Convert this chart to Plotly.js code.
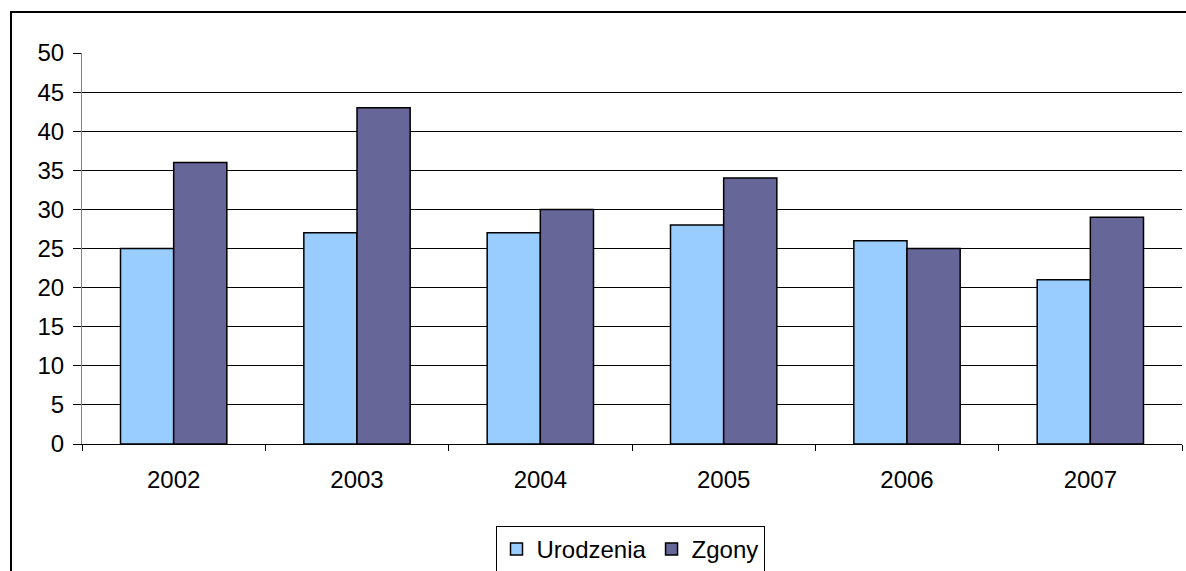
<!DOCTYPE html>
<html>
<head>
<meta charset="utf-8">
<script src="https://cdn.plot.ly/plotly-3.0.1.min.js"></script>
<style>
html,body{margin:0;padding:0;background:#fff;}
#chart{width:1186px;height:571px;}
</style>
</head>
<body>
<div id="chart"></div>
<script>
var years = ['2002', '2003', '2004', '2005', '2006', '2007'];
var urodzenia = [25, 27, 27, 28, 26, 21];
var zgony = [36, 43, 30, 34, 25, 29];
var yTicks = [0, 5, 10, 15, 20, 25, 30, 35, 40, 45, 50];

var W = 1186, H = 571;
var mL = 82, mR = 4, mT = 53, mB = 127;
var pw = W - mL - mR, ph = H - mT - mB;
function px(x) { return (x - mL) / pw; }
function py(y) { return (H - mB - y) / ph; }

var traces = [
  {type: 'bar', name: 'Urodzenia', x: years, y: urodzenia,
   marker: {color: '#99CCFF', line: {color: '#000000', width: 1.5}}},
  {type: 'bar', name: 'Zgony', x: years, y: zgony,
   marker: {color: '#666699', line: {color: '#000000', width: 1.5}}}
];

var font = {family: 'Liberation Sans, Arial, sans-serif', size: 24, color: '#000'};

var layout = {
  width: W, height: H,
  margin: {l: mL, r: mR, t: mT, b: mB, pad: 0, autoexpand: false},
  paper_bgcolor: '#fff', plot_bgcolor: '#fff',
  font: font,
  barmode: 'group', bargap: 0.42, bargroupgap: 0,
  showlegend: true,
  legend: {orientation: 'h', xref: 'container', x: 630 / W, xanchor: 'center',
           yref: 'container', y: 1 - 526 / H, yanchor: 'top',
           bordercolor: '#000', borderwidth: 1, font: font, traceorder: 'normal',
           itemwidth: 30},
  xaxis: {type: 'category', tickson: 'boundaries', ticks: 'outside', ticklen: 6,
          tickcolor: '#000', showline: true, linecolor: '#000', linewidth: 1,
          showgrid: false, tickfont: font, ticklabelstandoff: 14, fixedrange: true,
          automargin: false},
  yaxis: {range: [0, 50], tickvals: yTicks, ticks: 'outside', ticklen: 8,
          tickcolor: '#000', showline: true, linecolor: '#808080', linewidth: 1,
          showgrid: true, gridcolor: '#000', gridwidth: 1, zeroline: false,
          tickfont: font, ticklabelstandoff: 4, fixedrange: true, automargin: false},
  shapes: [
    {type: 'rect', xref: 'paper', yref: 'paper', x0: px(11), x1: px(1300),
     y0: py(700), y1: py(12), line: {color: '#000', width: 2}, fillcolor: 'rgba(0,0,0,0)', layer: 'below'}
  ]
};

Plotly.newPlot('chart', traces, layout, {displayModeBar: false, staticPlot: true});
</script>
</body>
</html>
